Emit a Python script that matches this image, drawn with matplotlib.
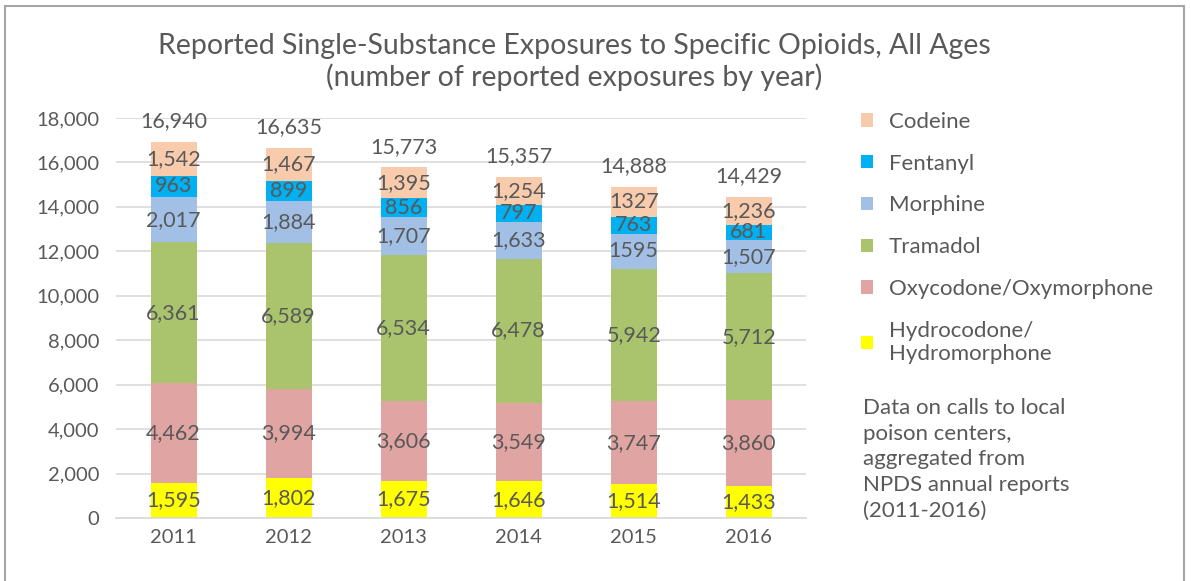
import numpy as np
import matplotlib
matplotlib.use("Agg")
import matplotlib.pyplot as plt
from matplotlib.patches import Patch, Rectangle

plt.rcParams["font.family"] = ["Lato", "DejaVu Sans"]

years = ["2011", "2012", "2013", "2014", "2015", "2016"]
hydrocodone = [1595, 1802, 1675, 1646, 1514, 1433]
oxycodone = [4462, 3994, 3606, 3549, 3747, 3860]
tramadol = [6361, 6589, 6534, 6478, 5942, 5712]
morphine = [2017, 1884, 1707, 1633, 1595, 1507]
fentanyl = [963, 899, 856, 797, 763, 681]
codeine = [1542, 1467, 1395, 1254, 1327, 1236]
totals = [16940, 16635, 15773, 15357, 14888, 14429]

series_names = ["Hydrocodone/\nHydromorphone", "Oxycodone/Oxymorphone", "Tramadol",
                "Morphine", "Fentanyl", "Codeine"]
series_values = [hydrocodone, oxycodone, tramadol, morphine, fentanyl, codeine]
series_colors = ["#FFFF00", "#E0A5A3", "#A9C46C", "#A2C0E6", "#00B0F0", "#F8CBAD"]
# labels shown without thousands separator in the source
no_comma = {("Morphine", "2015"), ("Codeine", "2015")}

note = "Data on calls to local\npoison centers,\naggregated from\nNPDS annual reports\n(2011-2016)"
title = ("Reported Single-Substance Exposures to Specific Opioids, All Ages\n"
         "(number of reported exposures by year)")

text_color = "#595959"

fig = plt.figure(figsize=(11.91, 5.81), dpi=100)
ax = fig.add_axes([0.0974, 0.1084, 0.5796, 0.6886])

x = np.arange(len(years))
bottom = np.zeros(len(years))
handles = []
for name, vals, color in zip(series_names, series_values, series_colors):
    vals = np.array(vals)
    ax.bar(x, vals, width=0.4, bottom=bottom, color=color, zorder=2)
    for xi, b, v, yr in zip(x, bottom, vals, years):
        lab = str(v) if (name, yr) in no_comma else f"{v:,}"
        ax.text(xi, b + v / 2, lab, ha="center", va="center", fontsize=15.5,
                color=text_color, zorder=3)
    bottom += vals
    handles.append(Patch(facecolor=color, label=name))

for xi, b, t in zip(x, bottom, totals):
    ax.annotate(f"{t:,}", (xi, b), xytext=(0, 15), textcoords="offset points",
                ha="center", va="center", fontsize=15.5, color=text_color)

ax.set_xlim(-0.5, len(years) - 0.5)
ax.set_ylim(0, 18000)
ax.set_yticks(np.arange(0, 18001, 2000))
ax.yaxis.set_major_formatter(matplotlib.ticker.FuncFormatter(lambda v, p: f"{int(v):,}"))
ax.set_xticks(x)
ax.set_xticklabels(years)
ax.tick_params(length=0, labelsize=14.5, labelcolor=text_color, pad=8)
ax.tick_params(axis="y", pad=12)
ax.grid(axis="y", color="#D9D9D9", linewidth=1.2, zorder=0)
for s in ["top", "right", "left"]:
    ax.spines[s].set_visible(False)
ax.spines["bottom"].set_color("#D9D9D9")
ax.spines["bottom"].set_linewidth(1.2)

fig.text(0.482, 0.893, title, ha="center", va="center", fontsize=20.5,
         color=text_color, linespacing=1.2)

leg = fig.legend(handles=handles[::-1], loc="upper left", bbox_to_anchor=(0.706, 0.842),
                 frameon=False, fontsize=16, handlelength=0.55, handleheight=0.55,
                 handletextpad=0.7, labelspacing=0.98, labelcolor=text_color)
for t in leg.get_texts():
    t.set_linespacing(1.2)

fig.text(0.725, 0.315, note, ha="left", va="top", fontsize=16, color=text_color,
         linespacing=1.35)

fig.patches.append(Rectangle((0.004, -0.05), 0.99, 1.04, transform=fig.transFigure,
                             fill=False, edgecolor="#A6A6A6", linewidth=1.5))

fig.savefig("out.png", dpi=100)
